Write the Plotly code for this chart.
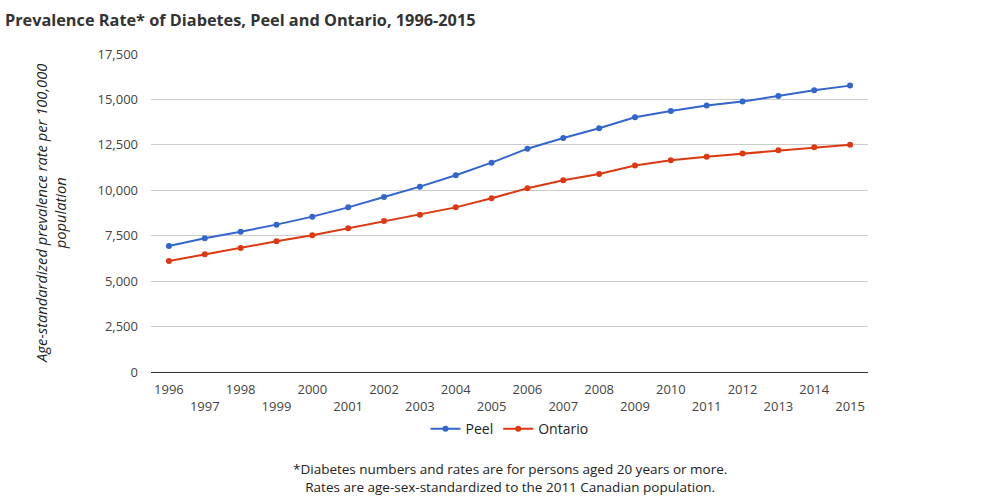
import plotly.graph_objects as go

years = list(range(1996, 2016))
peel = [6935, 7360, 7720, 8110, 8550, 9060, 9630, 10200, 10830, 11520,
        12290, 12880, 13410, 14020, 14360, 14660, 14880, 15190, 15500, 15760]
ontario = [6110, 6480, 6820, 7190, 7520, 7910, 8310, 8660, 9060, 9560,
           10110, 10550, 10900, 11360, 11650, 11850, 12020, 12200, 12370, 12510]
y_ticks = [0, 2500, 5000, 7500, 10000, 12500, 15000, 17500]

FONT = "Open Sans"
tick_text = [str(y) if (y % 2 == 0) else "<br>" + str(y) for y in years]

fig = go.Figure()
fig.add_trace(go.Scatter(x=years, y=peel, name="Peel", mode="lines+markers",
                         line=dict(color="#3366cc", width=2),
                         marker=dict(size=6, color="#3366cc")))
fig.add_trace(go.Scatter(x=years, y=ontario, name="Ontario", mode="lines+markers",
                         line=dict(color="#dc3912", width=2),
                         marker=dict(size=6, color="#dc3912")))

fig.update_layout(
    width=991, height=503,
    margin=dict(l=151, r=123, t=54, b=131),
    paper_bgcolor="white", plot_bgcolor="white",
    font=dict(family=FONT, size=13, color="#444"),
    title=dict(text="<b>Prevalence Rate* of Diabetes, Peel and Ontario, 1996-2015</b>",
               x=0.005, xanchor="left", y=0.96, yanchor="middle",
               font=dict(family=FONT, size=16.3, color="#333")),
    xaxis=dict(range=[1995.5, 2015.5], tickmode="array", tickvals=years,
               ticktext=tick_text, showgrid=False, showline=True,
               linecolor="#333", linewidth=1, ticks="", zeroline=False,
               tickfont=dict(size=13, color="#444"), ticklabelstandoff=5,
               fixedrange=True),
    yaxis=dict(range=[0, 17500], tickmode="array", tickvals=y_ticks,
               ticktext=[f"{v:,}" for v in y_ticks], showgrid=True,
               gridcolor="#cccccc", gridwidth=1, zeroline=False, ticks="",
               tickfont=dict(size=13, color="#444"), ticklabelstandoff=12),
    legend=dict(orientation="h", x=0.5, xanchor="center", y=-0.18,
                yanchor="middle", font=dict(size=14, color="#222"),
                bgcolor="rgba(0,0,0,0)"),
    showlegend=True,
)

fig.add_annotation(text="<i>Age-standardized prevalence rate per 100,000<br>population</i>",
                   xref="paper", yref="paper", x=-0.141, y=0.5,
                   xanchor="center", yanchor="middle", textangle=-90,
                   showarrow=False, font=dict(family=FONT, size=14.7, color="#222"))
fig.add_annotation(text="*Diabetes numbers and rates are for persons aged 20 years or more.<br>"
                        "Rates are age-sex-standardized to the 2011 Canadian population.",
                   xref="paper", yref="paper", x=0.5, y=-0.333,
                   xanchor="center", yanchor="middle", showarrow=False,
                   font=dict(family=FONT, size=13.5, color="#222"))

fig.write_html("out.html", config={"displayModeBar": False},
               post_script="document.body.style.margin='0';")
